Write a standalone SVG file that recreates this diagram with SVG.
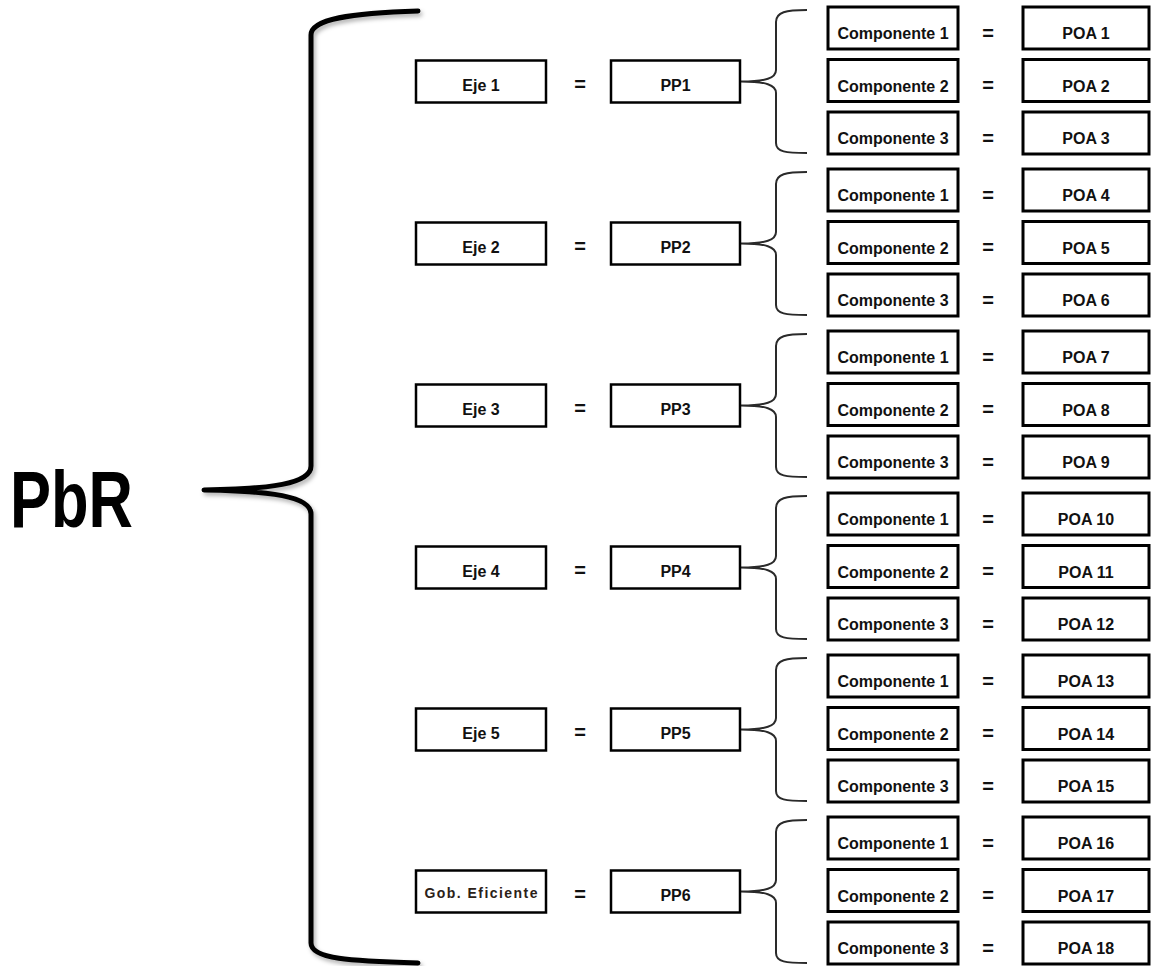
<svg xmlns="http://www.w3.org/2000/svg" width="1151" height="966" viewBox="0 0 1151 966">
<style>
.t{font-family:"Liberation Sans",Arial,sans-serif;font-weight:bold;font-size:16px;fill:#111;text-anchor:middle}
.eq{font-family:"Liberation Sans",Arial,sans-serif;font-weight:bold;font-size:20px;fill:#111;text-anchor:middle}
.cb{fill:#fff;stroke:#000;stroke-width:3}
.pb{fill:#fff;stroke:#000;stroke-width:3}
.lb{fill:#fff;stroke:#000;stroke-width:2.5}
.br{fill:none;stroke:#2a2a2a;stroke-width:2}
.big{fill:none;stroke:#000;stroke-width:5;stroke-linecap:round;stroke-linejoin:round}
</style>
<defs>
<filter id="sh" x="-10%" y="-10%" width="120%" height="120%">
<feDropShadow dx="2" dy="3" stdDeviation="2" flood-color="#000" flood-opacity="0.3"/>
</filter>
</defs>
<rect width="1151" height="966" fill="#fff"/>

<g id="pbr"><text x="10" y="527" font-family="'Liberation Sans',Arial,sans-serif" font-weight="bold" font-size="80" textLength="123" lengthAdjust="spacingAndGlyphs" fill="#000">PbR</text></g>

<g id="connectors">
<path class="big" filter="url(#sh)" d="M418 11 C350 13 311 19 311 35 L311 466 C311 484 270 489 204 490 C270 491 311 496 311 514 L311 943 C311 959 350 961 418 963"/>
<path class="br" d="M807 10 C786 10 776 12 776 22 L776 70 C776 78 766 81.5 741 81.5 C766 81.5 776 85 776 93 L776 143 C776 152 786 153 807 153"/>
<path class="br" d="M807 172 C786 172 776 174 776 184 L776 232 C776 240 766 243.5 741 243.5 C766 243.5 776 247 776 255 L776 305 C776 314 786 315 807 315"/>
<path class="br" d="M807 334 C786 334 776 336 776 346 L776 394 C776 402 766 405.5 741 405.5 C766 405.5 776 409 776 417 L776 467 C776 476 786 477 807 477"/>
<path class="br" d="M807 496 C786 496 776 498 776 508 L776 556 C776 564 766 567.5 741 567.5 C766 567.5 776 571 776 579 L776 629 C776 638 786 639 807 639"/>
<path class="br" d="M807 658 C786 658 776 660 776 670 L776 718 C776 726 766 729.5 741 729.5 C766 729.5 776 733 776 741 L776 791 C776 800 786 801 807 801"/>
<path class="br" d="M807 820 C786 820 776 822 776 832 L776 880 C776 888 766 891.5 741 891.5 C766 891.5 776 895 776 903 L776 953 C776 962 786 963 807 963"/>
</g>

<g id="equals">
<text class="eq" x="580" y="91">=</text>
<text class="eq" x="580" y="253">=</text>
<text class="eq" x="580" y="415">=</text>
<text class="eq" x="580" y="577">=</text>
<text class="eq" x="580" y="739">=</text>
<text class="eq" x="580" y="901">=</text>
<text class="eq" x="988" y="39.5">=</text>
<text class="eq" x="988" y="92">=</text>
<text class="eq" x="988" y="144.5">=</text>
<text class="eq" x="988" y="201.5">=</text>
<text class="eq" x="988" y="254">=</text>
<text class="eq" x="988" y="306.5">=</text>
<text class="eq" x="988" y="363.5">=</text>
<text class="eq" x="988" y="416">=</text>
<text class="eq" x="988" y="468.5">=</text>
<text class="eq" x="988" y="525.5">=</text>
<text class="eq" x="988" y="578">=</text>
<text class="eq" x="988" y="630.5">=</text>
<text class="eq" x="988" y="687.5">=</text>
<text class="eq" x="988" y="740">=</text>
<text class="eq" x="988" y="792.5">=</text>
<text class="eq" x="988" y="849.5">=</text>
<text class="eq" x="988" y="902">=</text>
<text class="eq" x="988" y="954.5">=</text>
</g>

<g id="eje1"><rect class="lb" x="416" y="60.5" width="130" height="42"/><text class="t" x="481" y="90.5">Eje 1</text></g>
<g id="pp1"><rect class="lb" x="611" y="60.5" width="129" height="42"/><text class="t" x="675.5" y="90.5">PP1</text></g>
<g id="eje2"><rect class="lb" x="416" y="222.5" width="130" height="42"/><text class="t" x="481" y="252.5">Eje 2</text></g>
<g id="pp2"><rect class="lb" x="611" y="222.5" width="129" height="42"/><text class="t" x="675.5" y="252.5">PP2</text></g>
<g id="eje3"><rect class="lb" x="416" y="384.5" width="130" height="42"/><text class="t" x="481" y="414.5">Eje 3</text></g>
<g id="pp3"><rect class="lb" x="611" y="384.5" width="129" height="42"/><text class="t" x="675.5" y="414.5">PP3</text></g>
<g id="eje4"><rect class="lb" x="416" y="546.5" width="130" height="42"/><text class="t" x="481" y="576.5">Eje 4</text></g>
<g id="pp4"><rect class="lb" x="611" y="546.5" width="129" height="42"/><text class="t" x="675.5" y="576.5">PP4</text></g>
<g id="eje5"><rect class="lb" x="416" y="708.5" width="130" height="42"/><text class="t" x="481" y="738.5">Eje 5</text></g>
<g id="pp5"><rect class="lb" x="611" y="708.5" width="129" height="42"/><text class="t" x="675.5" y="738.5">PP5</text></g>
<g id="gob"><rect class="lb" x="416" y="870.5" width="130" height="42"/><text class="t" x="481" y="897.5" style="font-size:14px;fill:#2b2118" textLength="113" lengthAdjust="spacing">Gob. Eficiente</text></g>
<g id="pp6"><rect class="lb" x="611" y="870.5" width="129" height="42"/><text class="t" x="675.5" y="900.5">PP6</text></g>

<g id="c1-1"><rect class="cb" x="828" y="7" width="130" height="42"/><text class="t" x="893" y="39">Componente 1</text></g>
<g id="poa1"><rect class="pb" x="1023" y="7" width="126" height="42"/><text class="t" x="1086" y="39">POA 1</text></g>
<g id="c1-2"><rect class="cb" x="828" y="59.5" width="130" height="42"/><text class="t" x="893" y="91.5">Componente 2</text></g>
<g id="poa2"><rect class="pb" x="1023" y="59.5" width="126" height="42"/><text class="t" x="1086" y="91.5">POA 2</text></g>
<g id="c1-3"><rect class="cb" x="828" y="112" width="130" height="42"/><text class="t" x="893" y="144">Componente 3</text></g>
<g id="poa3"><rect class="pb" x="1023" y="112" width="126" height="42"/><text class="t" x="1086" y="144">POA 3</text></g>

<g id="c2-1"><rect class="cb" x="828" y="169" width="130" height="42"/><text class="t" x="893" y="201">Componente 1</text></g>
<g id="poa4"><rect class="pb" x="1023" y="169" width="126" height="42"/><text class="t" x="1086" y="201">POA 4</text></g>
<g id="c2-2"><rect class="cb" x="828" y="221.5" width="130" height="42"/><text class="t" x="893" y="253.5">Componente 2</text></g>
<g id="poa5"><rect class="pb" x="1023" y="221.5" width="126" height="42"/><text class="t" x="1086" y="253.5">POA 5</text></g>
<g id="c2-3"><rect class="cb" x="828" y="274" width="130" height="42"/><text class="t" x="893" y="306">Componente 3</text></g>
<g id="poa6"><rect class="pb" x="1023" y="274" width="126" height="42"/><text class="t" x="1086" y="306">POA 6</text></g>

<g id="c3-1"><rect class="cb" x="828" y="331" width="130" height="42"/><text class="t" x="893" y="363">Componente 1</text></g>
<g id="poa7"><rect class="pb" x="1023" y="331" width="126" height="42"/><text class="t" x="1086" y="363">POA 7</text></g>
<g id="c3-2"><rect class="cb" x="828" y="383.5" width="130" height="42"/><text class="t" x="893" y="415.5">Componente 2</text></g>
<g id="poa8"><rect class="pb" x="1023" y="383.5" width="126" height="42"/><text class="t" x="1086" y="415.5">POA 8</text></g>
<g id="c3-3"><rect class="cb" x="828" y="436" width="130" height="42"/><text class="t" x="893" y="468">Componente 3</text></g>
<g id="poa9"><rect class="pb" x="1023" y="436" width="126" height="42"/><text class="t" x="1086" y="468">POA 9</text></g>

<g id="c4-1"><rect class="cb" x="828" y="493" width="130" height="42"/><text class="t" x="893" y="525">Componente 1</text></g>
<g id="poa10"><rect class="pb" x="1023" y="493" width="126" height="42"/><text class="t" x="1086" y="525">POA 10</text></g>
<g id="c4-2"><rect class="cb" x="828" y="545.5" width="130" height="42"/><text class="t" x="893" y="577.5">Componente 2</text></g>
<g id="poa11"><rect class="pb" x="1023" y="545.5" width="126" height="42"/><text class="t" x="1086" y="577.5">POA 11</text></g>
<g id="c4-3"><rect class="cb" x="828" y="598" width="130" height="42"/><text class="t" x="893" y="630">Componente 3</text></g>
<g id="poa12"><rect class="pb" x="1023" y="598" width="126" height="42"/><text class="t" x="1086" y="630">POA 12</text></g>

<g id="c5-1"><rect class="cb" x="828" y="655" width="130" height="42"/><text class="t" x="893" y="687">Componente 1</text></g>
<g id="poa13"><rect class="pb" x="1023" y="655" width="126" height="42"/><text class="t" x="1086" y="687">POA 13</text></g>
<g id="c5-2"><rect class="cb" x="828" y="707.5" width="130" height="42"/><text class="t" x="893" y="739.5">Componente 2</text></g>
<g id="poa14"><rect class="pb" x="1023" y="707.5" width="126" height="42"/><text class="t" x="1086" y="739.5">POA 14</text></g>
<g id="c5-3"><rect class="cb" x="828" y="760" width="130" height="42"/><text class="t" x="893" y="792">Componente 3</text></g>
<g id="poa15"><rect class="pb" x="1023" y="760" width="126" height="42"/><text class="t" x="1086" y="792">POA 15</text></g>

<g id="c6-1"><rect class="cb" x="828" y="817" width="130" height="42"/><text class="t" x="893" y="849">Componente 1</text></g>
<g id="poa16"><rect class="pb" x="1023" y="817" width="126" height="42"/><text class="t" x="1086" y="849">POA 16</text></g>
<g id="c6-2"><rect class="cb" x="828" y="869.5" width="130" height="42"/><text class="t" x="893" y="901.5">Componente 2</text></g>
<g id="poa17"><rect class="pb" x="1023" y="869.5" width="126" height="42"/><text class="t" x="1086" y="901.5">POA 17</text></g>
<g id="c6-3"><rect class="cb" x="828" y="922" width="130" height="42"/><text class="t" x="893" y="954">Componente 3</text></g>
<g id="poa18"><rect class="pb" x="1023" y="922" width="126" height="42"/><text class="t" x="1086" y="954">POA 18</text></g>
</svg>
